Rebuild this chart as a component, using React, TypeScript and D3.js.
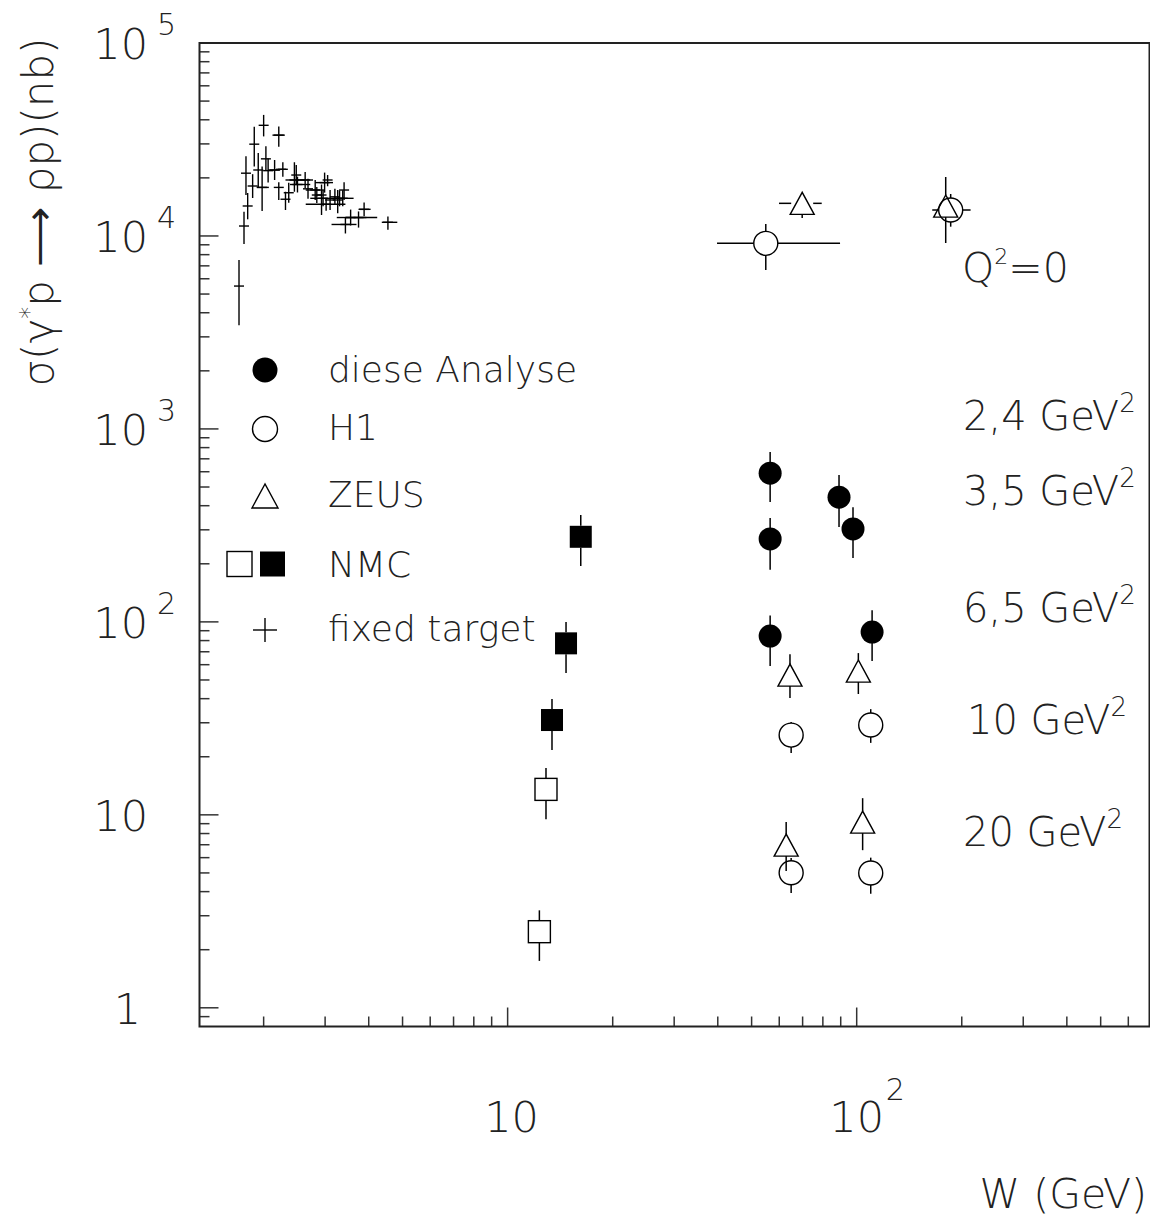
import React from 'react';
import * as d3 from 'd3';

const WIDTH = 1150;
const HEIGHT = 1218;
const X_DOMAIN: [number, number] = [1.31, 690];
const Y_DOMAIN: [number, number] = [0.8, 1e5];

// diese Analyse (filled circles)
const dieseW = [56.5, 56.5, 89, 97.6, 56.5, 110.7];
const dieseV = [590, 269, 443, 303, 84.4, 88.5];
const dieseLo = [418, 186, 310, 214, 59, 62.7];
const dieseHi = [759, 345, 577, 393, 108, 115];

// H1 (open circles)
const h1W = [54.9, 185.9, 64.9, 109.7, 64.9, 109.7];
const h1V = [9157, 13630, 25.9, 29.2, 5.01, 5.0];
const h1Lo = [6660, 11170, 20.9, 23.6, 3.93, 3.9];
const h1Hi = [11530, 16500, 30.3, 35.3, 5.97, 6.0];
const h1WLo = [39.8, 164.6, null, null, null, null];
const h1WHi = [89.6, 212, null, null, null, null];

// ZEUS (open triangles)
const zeusW = [69.8, 179.9, 64.4, 101.1, 62.8, 104];
const zeusV = [14760, 14290, 53, 55.6, 6.97, 9.17];
const zeusLo = [12390, 9193, 40.3, 42.3, 5.11, 6.56];
const zeusHi = [16700, 20210, 68, 68.9, 9.17, 12.2];
const zeusWLo = [59.9, null, null, null, null, null];
const zeusWHi = [79.4, null, null, null, null, null];

// NMC
const nmcFilledW = [16.2, 14.7, 13.4];
const nmcFilledV = [276, 77.4, 31.0];
const nmcFilledLo = [194.6, 54.3, 21.7];
const nmcFilledHi = [358, 99.8, 39.8];
const nmcOpenW = [12.88, 12.33];
const nmcOpenV = [13.55, 2.48];
const nmcOpenLo = [9.5, 1.75];
const nmcOpenHi = [17.5, 3.2];

// fixed target: [W, sigma, sigmaLo, sigmaHi, WLo, WHi]
const fixedTarget: (number | null)[][] = [
  [1.70, 5500, 3443, 7505, null, null],
  [1.757, 11260, 9085, 13350, null, null],
  [1.80, 14300, 12200, 16700, null, null],
  [1.78, 21150, 16300, 25900, null, null],
  [1.86, 18150, 15730, 20900, null, null],
  [1.88, 29900, 22900, 36800, null, null],
  [1.93, 21970, 17720, 26900, null, null],
  [1.98, 17850, 13450, 22900, 1.91, 2.07],
  [2.00, 37450, 32800, 42400, null, null],
  [2.03, 25100, 21970, 29200, null, null],
  [2.21, 33300, 29000, 36900, 2.12, 2.30],
  [2.06, 21800, 18900, 25200, null, null],
  [2.15, 21970, 19500, 24750, 2.06, 2.23],
  [2.27, 22150, 20300, 24100, 2.17, 2.32],
  [2.21, 17850, 15360, 19000, null, null],
  [2.31, 15500, 13630, 16950, null, null],
  [2.36, 16750, 14860, 18880, null, null],
  [2.45, 19500, 16950, 24100, 2.31, 2.63],
  [2.48, 20690, 18350, 23300, null, null],
  [2.50, 18480, 16800, 20300, 2.38, 2.72],
  [2.63, 19500, 17730, 21450, 2.48, 2.77],
  [2.68, 17550, 15570, 19780, null, null],
  [2.81, 17300, 15350, 19500, 2.64, 2.99],
  [2.84, 16300, 14820, 17930, null, null],
  [2.93, 16300, 12840, 18480, null, null],
  [2.96, 15670, 14250, 17240, 2.72, 3.24],
  [2.99, 18900, 16770, 21300, 2.81, 3.16],
  [3.05, 19500, 18100, 20690, null, null],
  [3.10, 15360, 13630, 17300, null, null],
  [3.20, 15950, 14500, 17540, null, null],
  [3.26, 15360, 13100, 17300, null, null],
  [3.30, 15670, 14250, 17240, null, null],
  [3.37, 15670, 14250, 17240, 3.17, 3.62],
  [3.40, 17300, 15360, 19000, null, null],
  [3.43, 11470, 10300, 12460, 3.13, 3.69],
  [3.55, 12460, 11330, 13700, 3.24, 3.94],
  [3.74, 12460, 11050, 13400, 3.43, 4.23],
  [3.88, 13740, 12640, 14900, 3.74, 4.05],
  [4.54, 11770, 10760, 12620, 4.36, 4.83],
  [3.02, 14600, 13500, 15800, 2.64, 3.43],
];

// axis tick labels
const yLabelValues = [1, 10, 100, 1000, 10000, 100000];
const yLabelExps = ['', '', '2', '3', '4', '5'];
const xLabelValues = [10, 100];
const xLabelExps = ['', '2'];

// Q^2 annotations
const q2Labels = ['2,4', '3,5', '6,5', '10', '20'];

const legendLabels = ['diese Analyse', 'H1', 'ZEUS', 'NMC', 'fixed target'];

const FONT = '"DejaVu Sans", "Liberation Sans", sans-serif';
const TXT = '#222';
const FW = 200;

type ErrProps = {
  cx: number; cy: number; yHi: number; yLo: number;
  xLo?: number | null; xHi?: number | null; gap: number;
};

function ErrBars({ cx, cy, yHi, yLo, xLo, xHi, gap }: ErrProps) {
  const segs: [number, number, number, number][] = [];
  if (yHi < cy - gap) segs.push([cx, yHi, cx, cy - gap]);
  if (yLo > cy + gap) segs.push([cx, cy + gap, cx, yLo]);
  if (xLo != null && xLo < cx - gap) segs.push([xLo, cy, cx - gap, cy]);
  if (xHi != null && xHi > cx + gap) segs.push([cx + gap, cy, xHi, cy]);
  return (
    <g stroke="#000" strokeWidth={1.5}>
      {segs.map((s, i) => (
        <line key={i} x1={s[0]} y1={s[1]} x2={s[2]} y2={s[3]} />
      ))}
    </g>
  );
}

function Triangle({ cx, cy, s = 12 }: { cx: number; cy: number; s?: number }) {
  const h = s * 0.92;
  return (
    <polygon
      points={`${cx},${cy - h} ${cx - s},${cy + h} ${cx + s},${cy + h}`}
      fill="none"
      stroke="#000"
      strokeWidth={1.4}
    />
  );
}

export default function App() {
  const x = d3.scaleLog().domain(X_DOMAIN).range([199.5, 1149.5]);
  const y = d3.scaleLog().domain(Y_DOMAIN).range([1026.5, 43]);

  const x0 = x.range()[0];
  const x1 = x.range()[1];
  const yB = y.range()[0];
  const yT = y.range()[1];

  const isMajor = (v: number) => Math.abs(Math.log10(v) - Math.round(Math.log10(v))) < 1e-9;
  const yTicks = y.ticks().filter((v) => (v > Y_DOMAIN[0] * 1.001 && v < Y_DOMAIN[1] * 0.999) || isMajor(v));
  const xTicks = x.ticks();

  const markers: React.ReactNode[] = [];

  // fixed target crosses
  fixedTarget.forEach((d, i) => {
    const cx = x(d[0] as number);
    const cy = y(d[1] as number);
    markers.push(
      <g key={`ft${i}`} stroke="#000" strokeWidth={1.4}>
        <line x1={cx} y1={y(d[3] as number)} x2={cx} y2={y(d[2] as number)} />
        <line x1={cx - 5} y1={cy} x2={cx + 5} y2={cy} />
        {d[4] != null && (
          <line x1={x(d[4] as number)} y1={cy} x2={x(d[5] as number)} y2={cy} />
        )}
      </g>
    );
  });

  // NMC open squares
  nmcOpenW.forEach((w, i) => {
    const cx = x(w);
    const cy = y(nmcOpenV[i]);
    markers.push(
      <g key={`nmco${i}`}>
        <ErrBars cx={cx} cy={cy} yHi={y(nmcOpenHi[i])} yLo={y(nmcOpenLo[i])} gap={11} />
        <rect x={cx - 11} y={cy - 11} width={22} height={22} fill="none" stroke="#000" strokeWidth={1.4} />
      </g>
    );
  });

  // NMC filled squares
  nmcFilledW.forEach((w, i) => {
    const cx = x(w);
    const cy = y(nmcFilledV[i]);
    markers.push(
      <g key={`nmcf${i}`}>
        <ErrBars cx={cx} cy={cy} yHi={y(nmcFilledHi[i])} yLo={y(nmcFilledLo[i])} gap={11} />
        <rect x={cx - 11} y={cy - 11} width={22} height={22} fill="#000" />
      </g>
    );
  });

  // ZEUS triangles
  zeusW.forEach((w, i) => {
    const cx = x(w);
    const cy = y(zeusV[i]);
    markers.push(
      <g key={`zeus${i}`}>
        <ErrBars
          cx={cx}
          cy={cy}
          yHi={y(zeusHi[i])}
          yLo={y(zeusLo[i])}
          xLo={zeusWLo[i] != null ? x(zeusWLo[i] as number) : null}
          xHi={zeusWHi[i] != null ? x(zeusWHi[i] as number) : null}
          gap={11}
        />
        <Triangle cx={cx} cy={cy} />
      </g>
    );
  });

  // H1 open circles
  h1W.forEach((w, i) => {
    const cx = x(w);
    const cy = y(h1V[i]);
    markers.push(
      <g key={`h1${i}`}>
        <ErrBars
          cx={cx}
          cy={cy}
          yHi={y(h1Hi[i])}
          yLo={y(h1Lo[i])}
          xLo={h1WLo[i] != null ? x(h1WLo[i] as number) : null}
          xHi={h1WHi[i] != null ? x(h1WHi[i] as number) : null}
          gap={12}
        />
        <circle cx={cx} cy={cy} r={12} fill="none" stroke="#000" strokeWidth={1.4} />
      </g>
    );
  });

  // diese Analyse filled circles
  dieseW.forEach((w, i) => {
    const cx = x(w);
    const cy = y(dieseV[i]);
    markers.push(
      <g key={`d${i}`}>
        <ErrBars cx={cx} cy={cy} yHi={y(dieseHi[i])} yLo={y(dieseLo[i])} gap={10} />
        <circle cx={cx} cy={cy} r={11.5} fill="#000" />
      </g>
    );
  });

  const legendY = [370, 429, 496, 564, 630];
  const legendBase = [382, 440, 507, 577, 641];
  const q2Base = [430, 505, 622, 734, 846];
  const q2X = [963, 963, 963, 967, 963];

  return (
    <svg
      width={WIDTH}
      height={HEIGHT}
      style={{ position: 'absolute', left: 0, top: 0, background: '#fff' }}
      fontFamily={FONT}
    >
      <rect x={0} y={0} width={WIDTH} height={HEIGHT} fill="#fff" />

      {/* ticks */}
      <g stroke="#333" strokeWidth={1.5}>
        {yTicks.map((v, i) => (
          <line key={`yt${i}`} x1={x0} x2={x0 + (isMajor(v) ? 19 : 10)} y1={y(v)} y2={y(v)} />
        ))}
        {xTicks.map((v, i) => (
          <line key={`xt${i}`} x1={x(v)} x2={x(v)} y1={yB} y2={yB - (isMajor(v) ? 19 : 10)} />
        ))}
      </g>

      {/* frame */}
      <rect x={x0} y={yT} width={x1 - x0} height={yB - yT} fill="none" stroke="#222" strokeWidth={2} />

      {/* y tick labels */}
      <g fill={TXT} fontWeight={FW}>
        {yLabelValues.map((v, i) => (
          <g key={`yl${i}`}>
            <text x={v === 1 ? 141 : 148} y={y(v) + 16} fontSize={43} textAnchor="end">
              {v === 1 ? '1' : '10'}
            </text>
            {yLabelExps[i] && (
              <text x={157} y={y(v) - 8} fontSize={30}>
                {yLabelExps[i]}
              </text>
            )}
          </g>
        ))}
      </g>

      {/* x tick labels */}
      <g fill={TXT} fontWeight={FW}>
        {xLabelValues.map((v, i) => (
          <g key={`xl${i}`}>
            <text x={x(v) + (xLabelExps[i] ? 0 : 4)} y={1132} fontSize={43} textAnchor="middle">
              10
            </text>
            {xLabelExps[i] && (
              <text x={x(v) + 29} y={1100} fontSize={30}>
                {xLabelExps[i]}
              </text>
            )}
          </g>
        ))}
      </g>

      {/* axis titles */}
      <text x={1147} y={1208} fontSize={41} textAnchor="end" fill={TXT} fontWeight={FW}>
        W (GeV)
      </text>
      <text
        transform="translate(53,212) rotate(-90)"
        fontSize={42}
        textAnchor="middle"
        fill={TXT}
        fontWeight={FW}
      >
        σ(γ
        <tspan dy={-16} fontSize={24}>*</tspan>
        <tspan dy={16}>p ⟶ ρp)(nb)</tspan>
      </text>

      {/* data */}
      {markers}

      {/* legend */}
      <g>
        <circle cx={265} cy={legendY[0]} r={12.5} fill="#000" />
        <circle cx={265} cy={legendY[1]} r={12.5} fill="none" stroke="#000" strokeWidth={1.4} />
        <Triangle cx={265} cy={legendY[2]} s={13} />
        <rect x={227} y={legendY[3] - 12.5} width={25} height={25} fill="none" stroke="#000" strokeWidth={1.4} />
        <rect x={260} y={legendY[3] - 12.5} width={25} height={25} fill="#000" />
        <g stroke="#000" strokeWidth={1.4}>
          <line x1={253} x2={277} y1={legendY[4]} y2={legendY[4]} />
          <line x1={265} x2={265} y1={legendY[4] - 12} y2={legendY[4] + 12} />
        </g>
        {legendLabels.map((t, i) => (
          <text key={`lg${i}`} x={328} y={legendBase[i]} fontSize={36} fill={TXT} fontWeight={FW}>
            {t}
          </text>
        ))}
      </g>

      {/* Q^2 annotations */}
      <g fill={TXT} fontWeight={FW}>
        <text x={962} y={282} fontSize={41}>
          Q<tspan dy={-18} fontSize={22}>2</tspan>
          <tspan dy={18}>=0</tspan>
        </text>
        {q2Labels.map((t, i) => (
          <text key={`q${i}`} x={q2X[i]} y={q2Base[i]} fontSize={40}>
            {t} GeV<tspan dy={-18} fontSize={26}>2</tspan>
          </text>
        ))}
      </g>
    </svg>
  );
}
